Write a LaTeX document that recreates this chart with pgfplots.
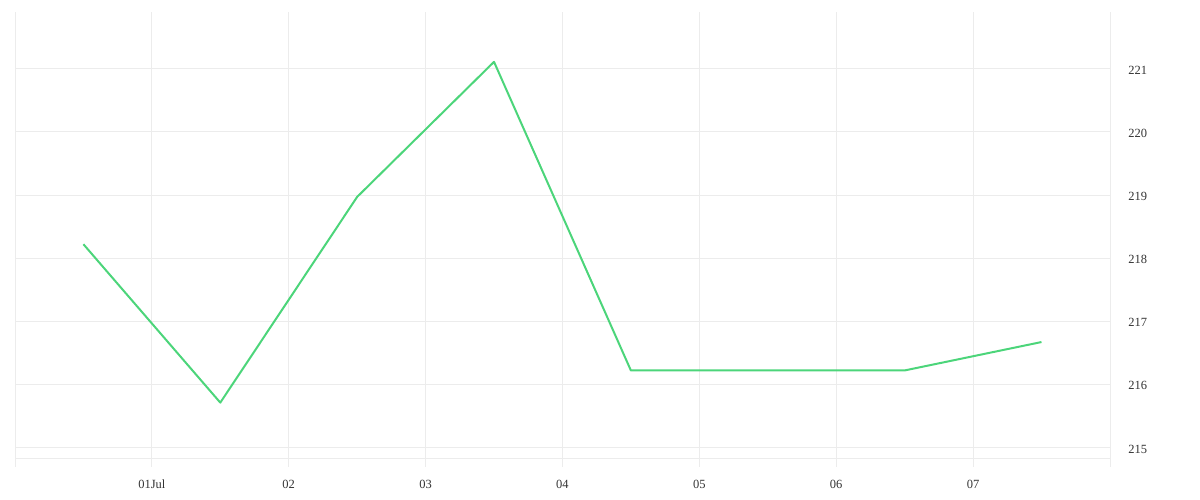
\documentclass[border=0pt]{standalone}
\usepackage{fontspec}
\setmainfont{Liberation Serif}
\usepackage{pgfplots}
\pgfplotsset{compat=1.18}

\definecolor{linegreen}{HTML}{4CD57A}
\definecolor{gridgray}{HTML}{ECECEC}

\begin{document}
\begin{tikzpicture}
\useasboundingbox (-15bp,-33bp) rectangle (1185bp,467bp);
\begin{axis}[
    at={(0,0)}, anchor=south west,
    scale only axis,
    width=1095bp, height=455bp,
    xmin=0, xmax=8,
    ymin=214.69, ymax=221.9,
    axis line style={draw=none},
    tick style={draw=none},
    xtick={1,2,3,4,5,6,7},
    xticklabels={01Jul,02,03,04,05,06,07},
    extra x ticks={0,8},
    extra x tick labels={},
    ytick={215,216,217,218,219,220,221},
    extra y ticks={214.83},
    extra y tick labels={},
    yticklabel pos=right,
    grid=major,
    major grid style={gridgray, line width=0.8bp},
    ticklabel style={font=\fontsize{12.5bp}{14bp}\selectfont, text=black!80},
    x tick label style={text height=9bp, text depth=3bp, yshift=-9bp},
    y tick label style={anchor=west, xshift=15bp, yshift=-1.5bp},
    /pgf/number format/assume math mode=true,
    clip=false,
]
\addplot[linegreen, line width=2bp, line join=round] coordinates {
    (0.5,218.22) (1.5,215.71) (2.5,218.97) (3.5,221.11)
    (4.5,216.22) (5.5,216.22) (6.5,216.22) (7.5,216.67)
};
\end{axis}
\end{tikzpicture}
\end{document}
